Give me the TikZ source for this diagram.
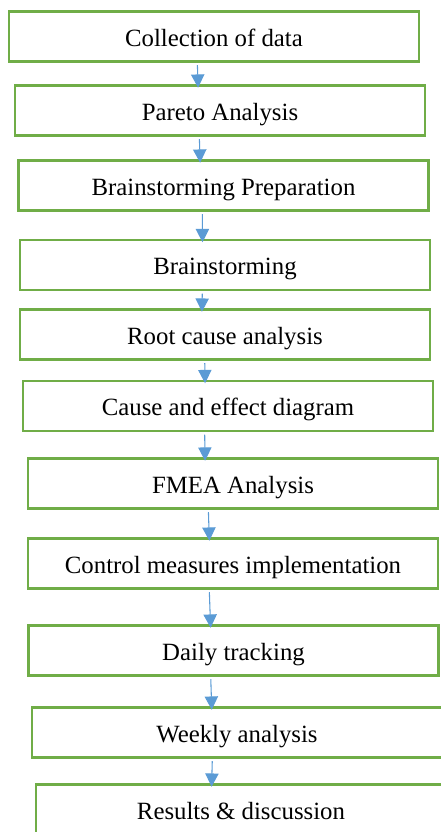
\documentclass[tikz,border=0pt]{standalone}
\usepackage{fontspec}
\setmainfont{Liberation Serif}
\usepackage{tikz}
\usetikzlibrary{arrows.meta, positioning}
\definecolor{boxgreen}{RGB}{112,173,71}
\definecolor{arrowblue}{RGB}{91,155,213}
\tikzset{
  stepbox/.style={rectangle, draw=boxgreen, fill=white,
    minimum width=307.5pt, minimum height=37.5pt, inner sep=0pt,
    text height=18.2pt, text depth=3.7pt,
    font=\fontsize{18.6}{22}\selectfont, line width=1.6pt},
  flowarrow/.style={-{Triangle[length=10pt, width=10pt]}, line width=0.8pt,
    color=arrowblue, shorten <=2pt, shorten >=-2.5pt}
}
\begin{document}
\begin{tikzpicture}[x=0.75pt, y=-0.75pt]
  \useasboundingbox (0,0) rectangle (440,832);

  \node[stepbox] (collect) at (214,36.5) {Collection of data};
  \node[stepbox] (pareto) at (220,110.5) {Pareto Analysis};
  \node[stepbox] (brprep) at (223.5,185.5) {Brainstorming Preparation};
  \node[stepbox] (brain) at (225,265) {Brainstorming};
  \node[stepbox] (root) at (225,334.5) {Root cause analysis};
  \node[stepbox] (cause) at (228,406) {Cause and effect diagram};
  \node[stepbox] (fmea) at (233,483.5) {FMEA Analysis};
  \node[stepbox] (control) at (233,563.5) {Control measures implementation};
  \node[stepbox] (daily) at (233.5,650.5) {Daily tracking};
  \node[stepbox] (weekly) at (237,732.5) {Weekly analysis};
  \node[stepbox] (results) at (241,809.5) {Results \& discussion};

  \draw[flowarrow] ([xshift=-12.5pt]collect.south) -- ([xshift=-16.5pt]pareto.north);
  \draw[flowarrow] ([xshift=-15.5pt]pareto.south) -- ([xshift=-17.6pt]brprep.north);
  \draw[flowarrow] ([xshift=-15.9pt]brprep.south) -- ([xshift=-16.9pt]brain.north);
  \draw[flowarrow] ([xshift=-17pt]brain.south) -- ([xshift=-17.25pt]root.north);
  \draw[flowarrow] ([xshift=-15.2pt]root.south) -- ([xshift=-17.25pt]cause.north);
  \draw[flowarrow] ([xshift=-17.5pt]cause.south) -- ([xshift=-21pt]fmea.north);
  \draw[flowarrow] ([xshift=-18.5pt]fmea.south) -- ([xshift=-17.8pt]control.north);
  \draw[flowarrow] ([xshift=-17.8pt]control.south) -- ([xshift=-17.25pt]daily.north);
  \draw[flowarrow] ([xshift=-17.1pt]daily.south) -- ([xshift=-19pt]weekly.north);
  \draw[flowarrow] ([xshift=-18.5pt]weekly.south) -- ([xshift=-22pt]results.north);
\end{tikzpicture}
\end{document}
